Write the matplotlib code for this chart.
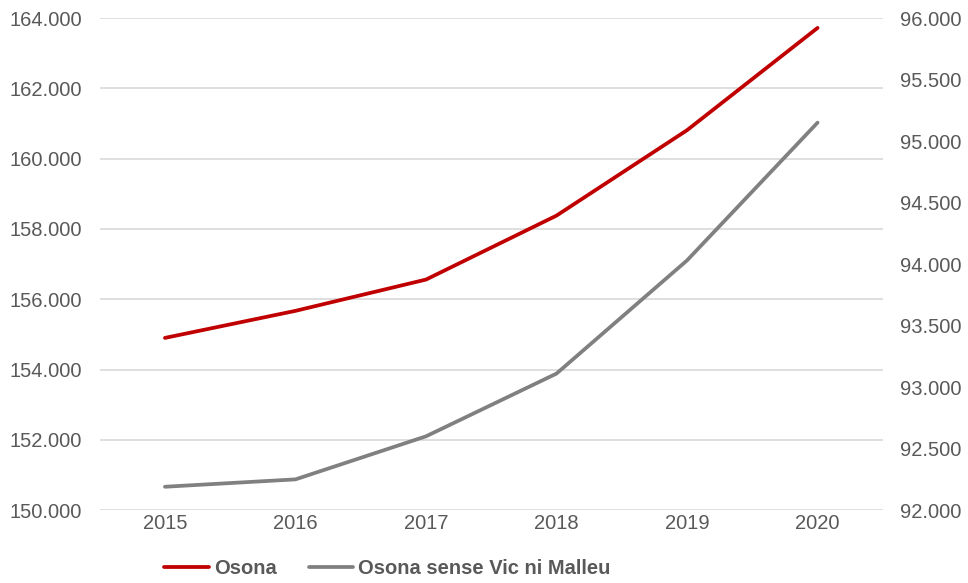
import matplotlib
matplotlib.use("Agg")
import matplotlib.pyplot as plt
from matplotlib.ticker import FuncFormatter

years = ["2015", "2016", "2017", "2018", "2019", "2020"]
osona = [154900, 155670, 156560, 158380, 160810, 163720]
osona_sense = [92190, 92250, 92600, 93110, 94030, 95150]
left_ticks = [150000, 152000, 154000, 156000, 158000, 160000, 162000, 164000]
right_ticks = [92000, 92500, 93000, 93500, 94000, 94500, 95000, 95500, 96000]

plt.rcParams['font.family'] = ['Liberation Sans', 'DejaVu Sans']
txt = '#595959'

fig = plt.figure(figsize=(9.68, 5.83), dpi=100)
ax = fig.add_axes([0.103, 0.125, 0.809, 0.844])
ax2 = ax.twinx()

x = list(range(len(years)))
l1, = ax.plot(x, osona, color='#C00000', lw=2.7, solid_capstyle='round', zorder=3)
l2, = ax2.plot(x, osona_sense, color='#808080', lw=2.7, solid_capstyle='round', zorder=3)

fmt = FuncFormatter(lambda v, p: f"{v:,.0f}".replace(",", "."))
ax.set_ylim(150000, 164000)
ax.set_yticks(left_ticks)
ax.yaxis.set_major_formatter(fmt)
ax2.set_ylim(92000, 96000)
ax2.set_yticks(right_ticks)
ax2.yaxis.set_major_formatter(fmt)
ax.set_xlim(-0.5, 5.5)
ax.set_xticks(x)
ax.set_xticklabels(years)

ax.grid(axis='y', color='#d9d9d9', lw=1.2)
ax.set_axisbelow(True)
for a in (ax, ax2):
    for s in a.spines.values():
        s.set_visible(False)
    a.tick_params(length=0, labelsize=14.5, labelcolor=txt)
ax.tick_params(axis='y', pad=13)
ax2.tick_params(axis='y', pad=12.5)
ax.tick_params(axis='x', pad=3)

fig.legend([l1, l2], ["Osona", "Osona sense Vic ni Malleu"], loc='center left',
           bbox_to_anchor=(0.151, 0.025), ncol=2, frameon=False,
           prop={'weight': 'bold', 'size': 14.5}, labelcolor=txt,
           handlelength=2.2, handletextpad=0.25, columnspacing=1.6)

fig.savefig("out.png", dpi=100)
